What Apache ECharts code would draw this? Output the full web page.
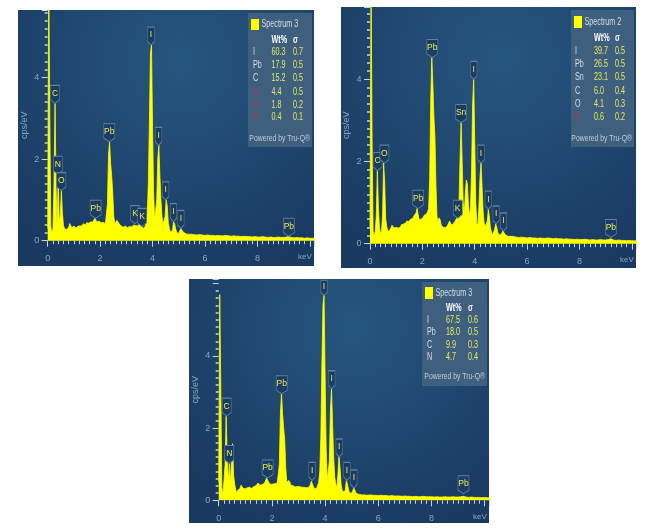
<!DOCTYPE html>
<html><head><meta charset="utf-8">
<script src="https://cdn.jsdelivr.net/npm/echarts@6/dist/echarts.min.js"></script>
<style>html,body{margin:0;padding:0;background:#fff}#c{width:655px;height:532px;filter:blur(.45px)}</style></head>
<body><div id="c"></div>
<script>
const energyKeV = [
0,.04,.08,.12,.16,.2,.24,.28,.32,.36,
.4,.44,.48,.52,.56,.6,.64,.68,.72,.76,
.8,.84,.88,.92,.96,1,1.04,1.08,1.12,1.16,
1.2,1.24,1.28,1.32,1.36,1.4,1.44,1.48,1.52,1.56,
1.6,1.64,1.68,1.72,1.76,1.8,1.84,1.88,1.92,1.96,
2,2.04,2.08,2.12,2.16,2.2,2.24,2.28,2.32,2.36,
2.4,2.44,2.48,2.52,2.56,2.6,2.64,2.68,2.72,2.76,
2.8,2.84,2.88,2.92,2.96,3,3.04,3.08,3.12,3.16,
3.2,3.24,3.28,3.32,3.36,3.4,3.44,3.48,3.52,3.56,
3.6,3.64,3.68,3.72,3.76,3.8,3.84,3.88,3.92,3.96,
4,4.04,4.08,4.12,4.16,4.2,4.24,4.28,4.32,4.36,
4.4,4.44,4.48,4.52,4.56,4.6,4.64,4.68,4.72,4.76,
4.8,4.84,4.88,4.92,4.96,5,5.04,5.08,5.12,5.16,
5.2,5.24,5.28,5.32,5.36,5.4,5.44,5.48,5.52,5.56,
5.6,5.7,5.8,5.9,6,6.1,6.2,6.3,6.4,6.5,6.6,6.7,6.8,6.9,7,7.1,7.2,7.3,7.4,7.5,7.6,7.7,7.8,
7.9,8,8.1,8.2,8.3,8.4,8.5,8.6,8.7,8.8,8.9,9,9.1,9.2,9.3,9.4,9.5,9.6,9.7,9.8,9.9,10,10.1,10.2];

const countsA = [
.3,6.5,3,.35,.18,.3,1.4,3.37,1.3,.3,
1.63,.5,.6,1.23,.7,.38,.3,.26,.27,.3,
.33,.42,.38,.32,.33,.36,.33,.31,.34,.36,
.38,.36,.33,.37,.42,.4,.38,.44,.46,.43,
.42,.46,.5,.46,.48,.55,.52,.46,.44,.48,
.47,.44,.46,.45,.43,.42,.44,.9,2.1,2.43,
1.9,1.6,1.2,.6,.42,.44,.5,.47,.42,.38,
.36,.35,.33,.34,.36,.34,.32,.33,.35,.36,
.34,.36,.38,.42,.37,.34,.36,.4,.44,.42,
.35,.3,.3,.35,.45,.7,1.4,2.9,4.6,4.8,
2.8,1.2,.5,.5,1,2,2.34,1.6,1,.6,
.4,.36,.6,1,.85,.45,.3,.22,.2,.24,
.47,.42,.3,.2,.17,.18,.22,.3,.27,.22,
.2,.18,.17,.16,.17,.16,.15,.16,.15,.15,
.15,.14,.15,.14,.13,.14,.13,.13,.12,.13,.12,.12,.13,.12,.11,.12,.11,.11,.1,.11,.1,.1,.09,
.1,.09,.09,.1,.09,.08,.09,.08,.08,.09,.08,.08,.09,.1,.08,.07,.08,.07,.07,.06,.07,.06,.06,.06];

const countsB = [
.4,6.5,2.5,.3,.2,.3,.7,1.78,.9,.4,
.25,.3,.7,1.96,1.5,.6,.42,.3,.28,.33,
.35,.45,.42,.38,.36,.4,.37,.38,.42,.4,
.46,.44,.48,.52,.5,.55,.58,.54,.56,.6,
.58,.62,.68,.72,.75,.86,.7,.58,.55,.6,
.62,.65,.7,.68,.72,.75,.85,1.6,3.5,4.53,
3.9,3.1,2.6,1.4,.65,.55,.63,.58,.45,.42,
.4,.41,.39,.42,.44,.48,.55,.5,.45,.48,
.5,.54,.58,.62,.7,1,2.1,2.95,2,1,
.75,1.2,1.55,1.45,.95,.65,.9,1.8,3.4,4,
2.5,1,.5,.45,.9,1.6,1.96,1.4,.8,.5,
.42,.38,.55,.84,.65,.38,.28,.22,.25,.35,
.48,.4,.28,.22,.2,.22,.26,.31,.26,.22,
.2,.2,.18,.19,.18,.17,.18,.17,.17,.16,
.16,.15,.16,.15,.14,.15,.14,.14,.13,.14,.13,.13,.14,.13,.12,.13,.12,.12,.11,.12,.11,.11,.1,
.11,.1,.1,.11,.1,.09,.1,.09,.09,.1,.09,.09,.1,.12,.09,.08,.09,.08,.08,.07,.08,.07,.07,.07];

const countsC = [
.5,5.7,3,.35,.2,.55,1,2.33,1.2,.5,
1.02,.45,1.1,1.57,.7,.45,.3,.2,.28,.3,
.33,.42,.38,.33,.34,.32,.33,.35,.34,.36,
.35,.33,.36,.38,.42,.4,.43,.48,.46,.42,
.42,.44,.43,.47,.5,.62,.58,.5,.46,.44,
.46,.45,.44,.46,.44,.48,.5,1,2.4,2.95,
2.4,2,1.7,.9,.5,.47,.55,.5,.42,.38,
.4,.39,.37,.4,.38,.37,.38,.37,.36,.35,
.36,.34,.35,.34,.35,.38,.42,.53,.55,.38,
.32,.31,.33,.38,.5,.8,1.8,3.8,5.4,5.68,
3.4,1.4,.55,.5,1.1,2.5,3.09,2.1,1.2,.65,
.45,.35,.7,1.2,.9,.45,.28,.24,.22,.3,
.55,.45,.3,.2,.18,.2,.25,.34,.28,.2,
.18,.17,.18,.16,.17,.15,.16,.15,.15,.14,
.14,.15,.14,.14,.13,.14,.13,.13,.12,.13,.12,.12,.12,.11,.12,.11,.11,.1,.11,.1,.1,.11,.1,
.1,.1,.09,.1,.09,.09,.1,.09,.09,.1,.09,.09,.1,.11,.09,.08,.09,.08,.08,.08,.07,.08,.07,.07];

const peaksA = [['C',.28,3.37],['N',.39,1.63],['O',.52,1.23],['Pb',1.83,.55],['Pb',2.35,2.43],['K',3.33,.42],['K',3.6,.35],['I',3.94,4.8],['I',4.23,2.34],['I',4.5,1],['I',4.8,.47],['I',5.08,.3],['Pb',9.2,.11]];
const peaksB = [['C',.29,1.78],['O',.55,1.96],['Pb',1.84,.86],['Pb',2.38,4.53],['K',3.35,.62],['Sn',3.48,2.95],['I',3.96,4],['I',4.24,1.96],['I',4.52,.84],['I',4.82,.48],['I',5.1,.31],['Pb',9.2,.15]];
const peaksC = [['C',.3,2.33],['N',.4,1.02],['Pb',1.84,.62],['Pb',2.37,2.95],['I',3.51,.55],['I',3.96,5.68],['I',4.25,3.09],['I',4.53,1.2],['I',4.82,.55],['I',5.08,.34],['Pb',9.2,.18]];

const tableA = {title:'Spectrum 3',elements:['I','Pb','C','N','O','K'],wt:['60.3','17.9','15.2','4.4','1.8','0.4'],sigma:['0.7','0.5','0.5','0.5','0.2','0.1'],red:['N','O','K']};
const tableB = {title:'Spectrum 2',elements:['I','Pb','Sn','C','O','K'],wt:['39.7','26.5','23.1','6.0','4.1','0.6'],sigma:['0.5','0.5','0.5','0.4','0.3','0.2'],red:['K']};
const tableC = {title:'Spectrum 3',elements:['I','Pb','C','N'],wt:['67.5','18.0','9.9','4.7'],sigma:['0.6','0.5','0.3','0.4'],red:[]};

const panels = [
 {counts:countsA,peaks:peaksA,table:tableA,px:18,py:10,pr:314,pb:266,x0:47.7,y0:240.7,xmax:10.16,ymax:5.66,
  box:[248,13,312,147],sq:[251,19,8,11],titleY:24,headY:40,rowY:[52,65,78,92,105,117],nameX:253,wtX:271.5,sigX:293,footY:138},
 {counts:countsB,peaks:peaksB,table:tableB,px:341,py:7,pr:636,pb:268,x0:370,y0:243.7,xmax:10.16,ymax:5.76,
  box:[571,10,634,147],sq:[574,16,8,12],titleY:22,headY:38,rowY:[51,64,77,91,104,117],nameX:575,wtX:594,sigX:615,footY:138},
 {counts:countsC,peaks:peaksC,table:tableC,px:189,py:279,pr:489,pb:523,x0:218.7,y0:500.3,xmax:10.16,ymax:6.13,
  box:[422,282,487,386],sq:[425,287,8,12],titleY:293,headY:308,rowY:[320,332,345,357],nameX:427,wtX:446,sigX:468,footY:376}
];

const FONT = '"Liberation Sans",sans-serif';
const AXISC = '#86a6bf', TICKC = '#c6d5df', YEL = '#ffff00';
const pin = 'path://M0 0H10V8L5 10L0 8Z';
const hideEdge = lim => v => v >= lim ? '' : String(v);

const graphic = [], grids = [], xAxes = [], yAxes = [], series = [];
panels.forEach((p,i)=>{
  graphic.push({type:'rect',z:-10,silent:true,shape:{x:p.px,y:p.py,width:p.pr-p.px,height:p.pb-p.py},
    style:{fill:new echarts.graphic.RadialGradient(.55,.2,.85,[{offset:0,color:'#26567f'},{offset:1,color:'#1a3a62'}])}});
  const b=p.box, t=p.table;
  graphic.push({type:'rect',z:20,silent:true,shape:{x:b[0],y:b[1],width:b[2]-b[0],height:b[3]-b[1]},style:{fill:'#3f5f7f'}});
  graphic.push({type:'rect',z:21,silent:true,shape:{x:p.sq[0],y:p.sq[1],width:p.sq[2],height:p.sq[3]},style:{fill:YEL}});
  const txt=(s,x,y,fill,extra)=>graphic.push({type:'text',z:21,silent:true,x:x,y:y,scaleX:.72,
    style:Object.assign({text:s,fill:fill,font:'10px '+FONT,verticalAlign:'middle',align:'left'},extra||{})});
  txt(t.title,p.sq[0]+p.sq[2]+2.5,p.titleY,'#d2dde6');
  txt('Wt%',p.wtX,p.headY,'#ffffff',{font:'bold 10px '+FONT});
  txt('σ',p.sigX,p.headY,'#f2f5f7',{font:'bold 10px '+FONT});
  t.elements.forEach((el,r)=>{
    txt(el,p.nameX,p.rowY[r],t.red.includes(el)?'#b03450':'#d2dde6');
    txt(t.wt[r],p.wtX,p.rowY[r],'#e4ea5e');
    txt(t.sigma[r],p.sigX,p.rowY[r],'#e4ea5e');
  });
  txt('Powered by Tru-Q®',b[2]-2,p.footY,'#bccbd8',{align:'right',font:'9.5px '+FONT});

  grids.push({left:p.x0,top:p.py,width:p.pr-p.x0,height:p.y0-p.py,show:false});
  xAxes.push({type:'value',gridIndex:i,min:0,max:p.xmax,interval:2,offset:3,splitLine:{show:false},
    axisLine:{show:false},axisTick:{show:true,length:6,lineStyle:{color:TICKC,width:1}},
    minorTick:{show:true,splitNumber:10,length:3.5,lineStyle:{color:TICKC,width:1}},minorSplitLine:{show:false},
    axisLabel:{color:AXISC,fontSize:9,margin:10.5,formatter:hideEdge(10),fontFamily:FONT},
    name:'keV',nameLocation:'end',nameGap:-16,nameTextStyle:{color:AXISC,fontSize:8,fontFamily:FONT,verticalAlign:'top',padding:[12,0,0,0]}});
  yAxes.push({type:'value',gridIndex:i,min:0,max:p.ymax,interval:2,offset:3,splitLine:{show:false},
    axisLine:{show:false},axisTick:{show:true,length:6,lineStyle:{color:TICKC,width:1}},
    minorTick:{show:true,splitNumber:10,length:3,lineStyle:{color:TICKC,width:1.5}},minorSplitLine:{show:false},
    axisLabel:{color:AXISC,fontSize:9,margin:5.5,formatter:hideEdge(5),fontFamily:FONT},
    name:'cps/eV',nameLocation:'middle',nameGap:16,nameTextStyle:{color:AXISC,fontSize:9,fontFamily:FONT}});
  series.push({type:'line',xAxisIndex:i,yAxisIndex:i,z:2,showSymbol:false,silent:true,smooth:false,
    data:energyKeV.map((e,k)=>[e,p.counts[k]]),
    lineStyle:{color:YEL,width:.8},areaStyle:{color:YEL,opacity:1},itemStyle:{color:YEL}});
  series.push({type:'scatter',xAxisIndex:i,yAxisIndex:i,z:5,silent:true,clip:false,
    data:p.peaks.map(q=>{
      const w=q[0].length>1?11:(q[0]==='I'?6.5:9), h=q[2]>5.5?15:18;
      return {value:[q[1],q[2]],symbol:pin,symbolSize:[w,h],symbolOffset:[0,-h/2],
        label:{show:true,formatter:q[0],position:'inside',offset:[0,-1],color:'#e6ea5c',fontSize:8.5,fontFamily:FONT}};
    }),
    itemStyle:{color:'#1c3d61',borderColor:'#5f80a0',borderWidth:.8,opacity:1}});
});

const chart = echarts.init(document.getElementById('c'),null,{renderer:'canvas'});
chart.setOption({animation:false,backgroundColor:'#ffffff',grid:grids,xAxis:xAxes,yAxis:yAxes,series:series,graphic:{elements:graphic}});
</script></body></html>
